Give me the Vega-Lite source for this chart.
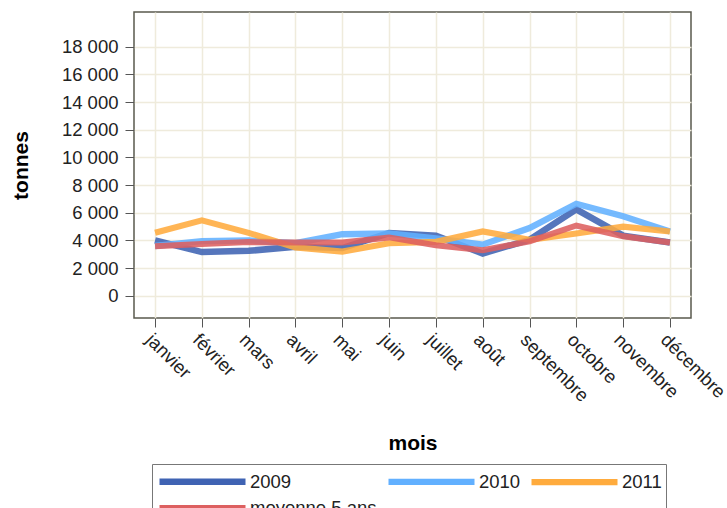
{
  "$schema": "https://vega.github.io/schema/vega-lite/v6.json",
  "autosize": "none",
  "width": 557,
  "height": 306,
  "padding": {"left": 134, "top": 12, "right": 36, "bottom": 190},
  "background": "white",
  "config": {
    "font": "Liberation Sans",
    "view": {"stroke": "#5a5a4e", "strokeWidth": 1.5},
    "axis": {"gridColor": "#efebdc", "gridWidth": 1.5, "domain": false, "tickColor": "#555", "tickSize": 9, "labelFont": "Liberation Sans", "labelFontSize": 18.5, "labelColor": "#222", "titleFont": "Liberation Sans", "titleFontSize": 21, "titleFontWeight": "bold", "titleColor": "#000"},
    "legend": {"symbolType": "M-1,0H7.6", "symbolSize": 400, "symbolOpacity": 1, "labelFontSize": 18.5, "labelFont": "Liberation Sans", "labelColor": "#222", "labelOffset": 67, "columnPadding": -2, "rowPadding": -8, "padding": 4, "strokeColor": "#777", "fillColor": "white"}
  },
  "data": {"values": [
    {"mois": "janvier", "serie": "2009", "tonnes": 4000},
    {"mois": "février", "serie": "2009", "tonnes": 3160},
    {"mois": "mars", "serie": "2009", "tonnes": 3250},
    {"mois": "avril", "serie": "2009", "tonnes": 3550},
    {"mois": "mai", "serie": "2009", "tonnes": 3450},
    {"mois": "juin", "serie": "2009", "tonnes": 4530},
    {"mois": "juillet", "serie": "2009", "tonnes": 4350},
    {"mois": "août", "serie": "2009", "tonnes": 3060},
    {"mois": "septembre", "serie": "2009", "tonnes": 4050},
    {"mois": "octobre", "serie": "2009", "tonnes": 6250},
    {"mois": "novembre", "serie": "2009", "tonnes": 4350},
    {"mois": "décembre", "serie": "2009", "tonnes": 3850},
    {"mois": "janvier", "serie": "2010", "tonnes": 3600},
    {"mois": "février", "serie": "2010", "tonnes": 3950},
    {"mois": "mars", "serie": "2010", "tonnes": 4000},
    {"mois": "avril", "serie": "2010", "tonnes": 3800},
    {"mois": "mai", "serie": "2010", "tonnes": 4450},
    {"mois": "juin", "serie": "2010", "tonnes": 4500},
    {"mois": "juillet", "serie": "2010", "tonnes": 4150},
    {"mois": "août", "serie": "2010", "tonnes": 3700},
    {"mois": "septembre", "serie": "2010", "tonnes": 4900},
    {"mois": "octobre", "serie": "2010", "tonnes": 6650},
    {"mois": "novembre", "serie": "2010", "tonnes": 5750},
    {"mois": "décembre", "serie": "2010", "tonnes": 4650},
    {"mois": "janvier", "serie": "2011", "tonnes": 4550},
    {"mois": "février", "serie": "2011", "tonnes": 5450},
    {"mois": "mars", "serie": "2011", "tonnes": 4550},
    {"mois": "avril", "serie": "2011", "tonnes": 3500},
    {"mois": "mai", "serie": "2011", "tonnes": 3200},
    {"mois": "juin", "serie": "2011", "tonnes": 3800},
    {"mois": "juillet", "serie": "2011", "tonnes": 3900},
    {"mois": "août", "serie": "2011", "tonnes": 4650},
    {"mois": "septembre", "serie": "2011", "tonnes": 4050},
    {"mois": "octobre", "serie": "2011", "tonnes": 4500},
    {"mois": "novembre", "serie": "2011", "tonnes": 5000},
    {"mois": "décembre", "serie": "2011", "tonnes": 4650},
    {"mois": "janvier", "serie": "moyenne 5 ans", "tonnes": 3580},
    {"mois": "février", "serie": "moyenne 5 ans", "tonnes": 3740},
    {"mois": "mars", "serie": "moyenne 5 ans", "tonnes": 3880},
    {"mois": "avril", "serie": "moyenne 5 ans", "tonnes": 3850},
    {"mois": "mai", "serie": "moyenne 5 ans", "tonnes": 3850},
    {"mois": "juin", "serie": "moyenne 5 ans", "tonnes": 4220},
    {"mois": "juillet", "serie": "moyenne 5 ans", "tonnes": 3650},
    {"mois": "août", "serie": "moyenne 5 ans", "tonnes": 3300},
    {"mois": "septembre", "serie": "moyenne 5 ans", "tonnes": 3930},
    {"mois": "octobre", "serie": "moyenne 5 ans", "tonnes": 5080},
    {"mois": "novembre", "serie": "moyenne 5 ans", "tonnes": 4300},
    {"mois": "décembre", "serie": "moyenne 5 ans", "tonnes": 3850}
  ]},
  "mark": {"type": "line", "strokeOpacity": 0.88, "strokeJoin": "miter", "strokeCap": "butt"},
  "encoding": {
    "x": {
      "field": "mois", "type": "ordinal",
      "sort": ["janvier", "février", "mars", "avril", "mai", "juin", "juillet", "août", "septembre", "octobre", "novembre", "décembre"],
      "scale": {"type": "point", "padding": 0.45},
      "axis": {"title": "mois", "labelAngle": 45, "labelAlign": "left", "labelBaseline": "top", "labelPadding": 3, "grid": true, "titleX": 278.5, "titleY": 125, "titleBaseline": "middle", "titleAlign": "center"}
    },
    "y": {
      "field": "tonnes", "type": "quantitative",
      "scale": {"domain": [-1600, 20500], "nice": false, "zero": false},
      "axis": {"title": "tonnes", "values": [0, 2000, 4000, 6000, 8000, 10000, 12000, 14000, 16000, 18000], "format": ",d", "labelExpr": "replace(datum.label, ',', ' ')", "labelPadding": 7, "titleX": -113, "titleY": 153, "titleAngle": -90, "titleBaseline": "middle", "titleAlign": "center"}
    },
    "color": {
      "field": "serie", "type": "nominal",
      "scale": {"domain": ["2009", "2010", "2011", "moyenne 5 ans"], "range": ["#3f63b3", "#62b0ff", "#ffab3d", "#dd6060"]},
      "legend": {"title": null, "orient": "none", "legendX": 18, "legendY": 452, "direction": "horizontal", "columns": 3}
    },
    "strokeWidth": {
      "field": "serie", "type": "nominal",
      "scale": {"domain": ["2009", "2010", "2011", "moyenne 5 ans"], "range": [6.5, 6, 10, 6]},
      "legend": {"title": null, "orient": "none", "legendX": 18, "legendY": 452, "direction": "horizontal", "columns": 3}
    }
  }
}
